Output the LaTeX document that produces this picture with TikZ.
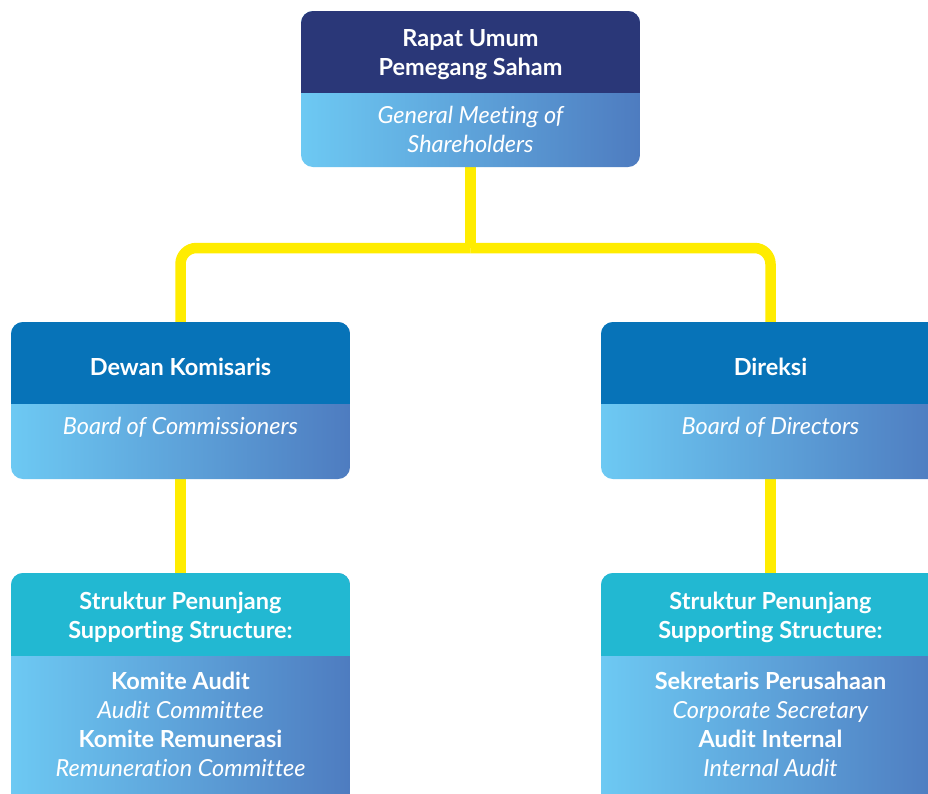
\documentclass[tikz,border=0pt]{standalone}
\usepackage{fontspec}
\setmainfont{Lato}[Ligatures={NoCommon}]
\definecolor{navy}{HTML}{2A3778}
\definecolor{headblue}{HTML}{0773B8}
\definecolor{headteal}{HTML}{22B8D2}
\definecolor{gradL}{HTML}{6DC9F3}
\definecolor{gradR}{HTML}{4E7CC0}
\definecolor{linkyellow}{HTML}{FFEC00}

\tikzset{
  frame/.style={minimum width=339pt, inner sep=0pt, outer sep=0pt},
  conn/.style={draw=linkyellow, line width=10.5pt},
  headtxt/.style={text=white, font=\bfseries\fontsize{23.5}{29}\selectfont, align=center, inner sep=0pt},
  subtxt/.style={text=white, font=\itshape\fontsize{23.5}{29}\selectfont, align=center, inner sep=0pt},
  bodytxt/.style={text=white, font=\fontsize{23.5}{29}\selectfont, align=center, inner sep=0pt},
}

% gradient body with a solid header band, clipped to a rounded frame
\newcommand\fillorgbox[3]{%
  \begin{scope}
    \clip[rounded corners=12pt] (#1.south west) rectangle (#1.north east);
    \shade[left color=gradL, right color=gradR] (#1.south west) rectangle (#1.north east);
    \fill[#3] (#1.north west) rectangle (#1.east |- 0,#2);
  \end{scope}}

\begin{document}
\begin{tikzpicture}[x=1pt, y=-1pt]
  \clip (0,0) rectangle (928,793);
  \fill[white] (0,0) rectangle (928,793);

  % box frames
  \node[frame, minimum height=156pt] (gms) at (470.5,89) {};
  \node[frame, minimum height=157pt] (boc) at (180.5,400.5) {};
  \node[frame, minimum height=157pt] (bod) at (770.5,400.5) {};
  \node[frame, minimum height=237pt] (sscL) at (180.5,691.5) {};
  \node[frame, minimum height=237pt] (sscR) at (770.5,691.5) {};
  \coordinate (bus) at (470.5,248);

  % connectors
  \draw[conn] (gms.south) -- (bus);
  \draw[conn, rounded corners=16pt] (bus) -| (boc.north);
  \draw[conn, rounded corners=16pt] (bus) -| (bod.north);
  \draw[conn] (boc.south) -- (sscL.north);
  \draw[conn] (bod.south) -- (sscR.north);

  % box fills
  \fillorgbox{gms}{93}{navy}
  \fillorgbox{boc}{404}{headblue}
  \fillorgbox{bod}{404}{headblue}
  \fillorgbox{sscL}{656}{headteal}
  \fillorgbox{sscR}{656}{headteal}

  % texts
  \node[headtxt] (gmsH) at (470.5,55) {Rapat Umum\\Pemegang Saham};
  \node[subtxt] (gmsS) at (470.5,129) {General Meeting of\\Shareholders};

  \node[headtxt] (bocH) at (180.5,367) {Dewan Komisaris};
  \node[subtxt] (bocS) at (180.5,427) {Board of Commissioners};
  \node[headtxt] (bodH) at (770.5,367) {Direksi};
  \node[subtxt] (bodS) at (770.5,427) {Board of Directors};

  \node[headtxt] (sscLH) at (180.5,617) {Struktur Penunjang\\Supporting Structure:};
  \node[headtxt] (sscRH) at (770.5,617) {Struktur Penunjang\\Supporting Structure:};

  \node[bodytxt] (sscLB) at (180.5,724) {\textbf{Komite Audit}\\\textit{Audit Committee}\\\textbf{Komite Remunerasi}\\\textit{Remuneration Committee}};
  \node[bodytxt] (sscRB) at (770.5,724) {\textbf{Sekretaris Perusahaan}\\\textit{Corporate Secretary}\\\textbf{Audit Internal}\\\textit{Internal Audit}};
\end{tikzpicture}
\end{document}
